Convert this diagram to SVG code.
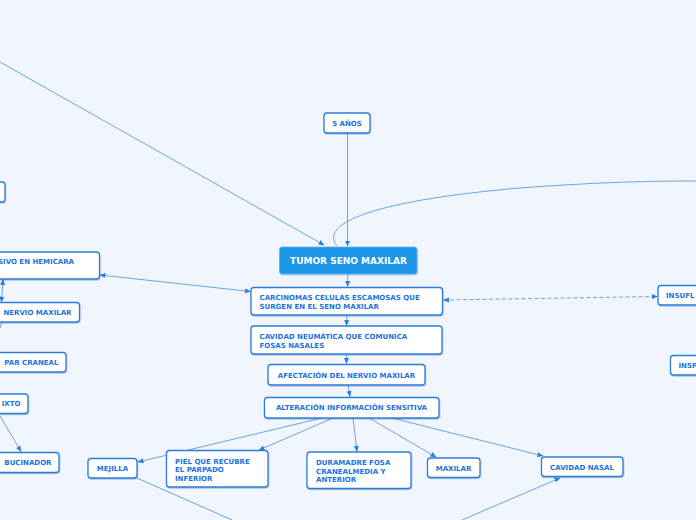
<svg xmlns="http://www.w3.org/2000/svg" width="696" height="520" viewBox="0 0 696 520">
<defs>
<style>
.n{fill:#fff;stroke:#2a7ddb;stroke-width:1.3}
.t{font-family:"DejaVu Sans",Verdana,sans-serif;font-weight:bold;font-size:7px;fill:#1b72e0}
.c{text-anchor:middle}
.e{text-anchor:end}
.l{fill:none;stroke:#5b9be8;stroke-width:0.9}
.d{stroke-dasharray:4 2.5}
</style>
<marker id="a" viewBox="0 0 6 6" refX="5.5" refY="3" markerWidth="6" markerHeight="6" orient="auto-start-reverse" markerUnits="userSpaceOnUse">
<path d="M0,0.5 L6,3 L0,5.5 Z" fill="#2a7ddb"/>
</marker>
<filter id="s" x="-10%" y="-20%" width="120%" height="150%">
<feDropShadow dx="0.5" dy="1" stdDeviation="0.6" flood-color="#1a4f8f" flood-opacity="0.3"/>
</filter>
</defs>
<rect width="696" height="520" fill="#f1f5fd"/>
<g id="connectors">
<path class="l" d="M0,62 L324,245" marker-end="url(#a)"/>
<path class="l" d="M347.5,133 L347.5,246" marker-end="url(#a)"/>
<path class="l" d="M337,246 C318,222 380,200 520,188 C600,182 650,181 696,181"/>
<path class="l" d="M348,274 L347.5,286.5" marker-end="url(#a)"/>
<path class="l" d="M347,315 L346.5,325.5" marker-end="url(#a)"/>
<path class="l" d="M346.5,354 L346.5,363.5" marker-end="url(#a)"/>
<path class="l" d="M348,385 L350,396.5" marker-end="url(#a)"/>
<path class="l" d="M322,418 L138,462" marker-end="url(#a)"/>
<path class="l" d="M333,418 L259,450" marker-end="url(#a)"/>
<path class="l" d="M353,418 L357,451.5" marker-end="url(#a)"/>
<path class="l" d="M369,418 L436,457" marker-end="url(#a)"/>
<path class="l" d="M392,418 L543,456" marker-end="url(#a)"/>
<path class="l" d="M137,478 L232,520"/>
<path class="l" d="M462,520 L560,478" marker-end="url(#a)"/>
<path class="l" d="M100,275 L250.5,291.5" marker-start="url(#a)" marker-end="url(#a)"/>
<path class="l d" d="M443.5,300 L657.5,296.5" marker-start="url(#a)" marker-end="url(#a)"/>
<path class="l" d="M3,279.5 L1.5,302" marker-start="url(#a)" marker-end="url(#a)"/>
<path class="l" d="M2,322 L0,328"/>
<path class="l" d="M0,416 L21,451.5" marker-end="url(#a)"/>
</g>
<g id="n-top-left"><rect class="n" filter="url(#s)" x="-10" y="182" width="15" height="20" rx="3"/></g>
<g id="n-5anos"><rect class="n" filter="url(#s)" x="324" y="113" width="46" height="20" rx="3"/><text class="t c" x="347" y="125.5">5 AÑOS</text></g>
<g id="n-tumor"><rect filter="url(#s)" x="279.5" y="247" width="137.5" height="27" rx="2.5" fill="#1e96e6" stroke="#5cb6f0" stroke-width="0.8"/><text x="348.5" y="264.2" text-anchor="middle" font-family="DejaVu Sans,Verdana,sans-serif" font-weight="bold" font-size="9" fill="#fff">TUMOR SENO MAXILAR</text></g>
<g id="n-carcinomas"><rect class="n" filter="url(#s)" x="251" y="287.5" width="191.5" height="27.5" rx="3"/><text class="t" x="259.5" y="299.5">CARCINOMAS CELULAS ESCAMOSAS QUE</text><text class="t" x="259.5" y="308.5">SURGEN EN EL SENO MAXILAR</text></g>
<g id="n-cavidad-neumatica"><rect class="n" filter="url(#s)" x="251" y="326" width="191" height="28" rx="3"/><text class="t" x="259.5" y="338.5">CAVIDAD NEUMÁTICA QUE COMUNICA</text><text class="t" x="259.5" y="347.5">FOSAS NASALES</text></g>
<g id="n-afectacion"><rect class="n" filter="url(#s)" x="268" y="364.5" width="157" height="20.5" rx="3"/><text class="t c" x="346.5" y="377.5">AFECTACIÓN DEL NERVIO MAXILAR</text></g>
<g id="n-alteracion"><rect class="n" filter="url(#s)" x="264.5" y="397.5" width="174.5" height="20.5" rx="3"/><text class="t c" x="351.5" y="410">ALTERACIÓN INFORMACIÓN SENSITIVA</text></g>
<g id="n-mejilla"><rect class="n" filter="url(#s)" x="88" y="458.5" width="49" height="19.5" rx="3"/><text class="t c" x="112.5" y="470.8">MEJILLA</text></g>
<g id="n-piel"><rect class="n" filter="url(#s)" x="166.5" y="450.5" width="101.5" height="36.5" rx="3"/><text class="t" x="175" y="463.5">PIEL QUE RECUBRE</text><text class="t" x="175" y="472">EL PARPADO</text><text class="t" x="175" y="480.5">INFERIOR</text></g>
<g id="n-duramadre"><rect class="n" filter="url(#s)" x="307" y="452" width="104" height="36.5" rx="3"/><text class="t" x="316" y="465">DURAMADRE FOSA</text><text class="t" x="316" y="473.5">CRANEALMEDIA Y</text><text class="t" x="316" y="482">ANTERIOR</text></g>
<g id="n-maxilar"><rect class="n" filter="url(#s)" x="427.5" y="458" width="52.5" height="19.5" rx="3"/><text class="t c" x="453.5" y="470.5">MAXILAR</text></g>
<g id="n-cavidad-nasal"><rect class="n" filter="url(#s)" x="541.5" y="457" width="81.5" height="19.5" rx="3"/><text class="t c" x="582" y="469.5">CAVIDAD NASAL</text></g>
<g id="n-insufl"><rect class="n" filter="url(#s)" x="658" y="285.5" width="60" height="19.5" rx="3"/><text class="t" x="666" y="298">INSUFL</text></g>
<g id="n-insp"><rect class="n" filter="url(#s)" x="670.5" y="355.5" width="50" height="19.5" rx="3"/><text class="t" x="678.5" y="368">INSP</text></g>
<g id="n-hemicara"><rect class="n" filter="url(#s)" x="-20" y="252" width="119.5" height="27" rx="3"/><text class="t e" x="74" y="263.8">SIVO EN HEMICARA</text></g>
<g id="n-nervio-maxilar"><rect class="n" filter="url(#s)" x="-20" y="302.5" width="99.5" height="19.5" rx="3"/><text class="t e" x="71.5" y="315">NERVIO MAXILAR</text></g>
<g id="n-par-craneal"><rect class="n" filter="url(#s)" x="-20" y="352.5" width="86" height="19.5" rx="3"/><text class="t e" x="58.5" y="365">PAR CRANEAL</text></g>
<g id="n-mixto"><rect class="n" filter="url(#s)" x="-20" y="394" width="48" height="19.5" rx="3"/><text class="t e" x="20.5" y="406.2">IXTO</text></g>
<g id="n-bucinador"><rect class="n" filter="url(#s)" x="-20" y="452.5" width="79" height="20" rx="3"/><text class="t e" x="51.5" y="465">BUCINADOR</text></g>
</svg>
